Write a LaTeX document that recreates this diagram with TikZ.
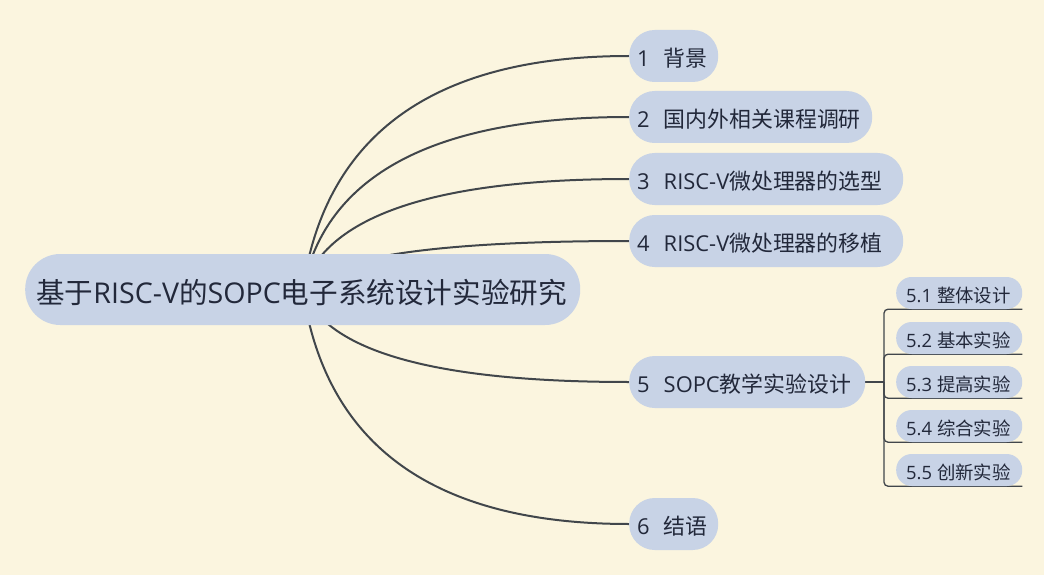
\documentclass[tikz,border=0pt]{standalone}
\usepackage{fontspec}
\setmainfont{Open Sans}
\newfontfamily\cjk{Noto Sans CJK SC}
\newcommand\zh[1]{{\cjk #1}}
\definecolor{bgc}{HTML}{FBF5DF}
\definecolor{nodefill}{HTML}{C8D3E6}
\definecolor{txt}{HTML}{22283A}
\definecolor{linec}{HTML}{41464B}
\pgfdeclarelayer{bglayer}
\pgfdeclarelayer{linelayer}
\pgfsetlayers{bglayer,linelayer,main}
\begin{document}
\begin{tikzpicture}[x=1pt,y=-1pt,
  pill/.style={fill=nodefill, text=txt, anchor=west, align=left, inner ysep=0pt},
  central/.style={pill, rounded corners=35pt, minimum height=71pt, inner xsep=11pt,
    text width=533pt, text height=28.5pt, text depth=0.8pt, font=\fontsize{28.6}{32}\selectfont},
  topic/.style={pill, rounded corners=25.5pt, minimum height=52pt, inner xsep=8pt,
    text height=21.5pt, text depth=0.8pt, font=\fontsize{21.9}{25}\selectfont},
  subtopic/.style={pill, rounded corners=15.5pt, minimum height=32pt, inner xsep=8pt,
    text width=110pt, text height=19.5pt, text depth=0.3pt, font=\fontsize{18.4}{22}\selectfont},
  conn/.style={draw=linec, line width=2pt},
  brk/.style={draw=linec, line width=1.3pt, rounded corners=4pt}]

\begin{pgfonlayer}{bglayer}
  \fill[bgc] (0,0) rectangle (1044,575);
\end{pgfonlayer}
\useasboundingbox (0,0) rectangle (1044,575);

% central topic
\node[central] (c) at (25,289.5) {\zh{基于}RISC-V\zh{的}SOPC\zh{电子系统设计实验研究}};

% main topics
\node[topic, text width=73pt]  (n1) at (629,56)  {1\hspace{14pt}\zh{背景}};
\node[topic, text width=227pt] (n2) at (629,117) {2\hspace{14pt}\zh{国内外相关课程调研}};
\node[topic, text width=258pt] (n3) at (629,179) {3\hspace{14pt}RISC-V\zh{微处理器的选型}};
\node[topic, text width=258pt] (n4) at (629,241) {4\hspace{14pt}RISC-V\zh{微处理器的移植}};
\node[topic, text width=220pt] (n5) at (629,382) {5\hspace{14pt}SOPC\zh{教学实验设计}};
\node[topic, text width=73pt]  (n6) at (629,524) {6\hspace{14pt}\zh{结语}};

% subtopics
\node[subtopic] (s1) at (896,293) {\hspace{2pt}5.1\hspace{5pt}\zh{整体设计}};
\node[subtopic] (s2) at (896,338) {\hspace{2pt}5.2\hspace{5pt}\zh{基本实验}};
\node[subtopic] (s3) at (896,382) {\hspace{2pt}5.3\hspace{5pt}\zh{提高实验}};
\node[subtopic] (s4) at (896,426) {\hspace{2pt}5.4\hspace{5pt}\zh{综合实验}};
\node[subtopic] (s5) at (896,470) {\hspace{2pt}5.5\hspace{5pt}\zh{创新实验}};

\coordinate (br) at (884,382);

\begin{pgfonlayer}{linelayer}
  \draw[conn] (c.center) .. controls (325.3,134) and (434.3,56) .. (n1.west);
  \draw[conn] (c.center) .. controls (325.3,174.7) and (434.3,117) .. (n2.west);
  \draw[conn] (c.center) .. controls (325.3,216) and (434.3,179) .. (n3.west);
  \draw[conn] (c.center) .. controls (325.3,257.3) and (434.3,241) .. (n4.west);
  \draw[conn] (c.center) .. controls (325.3,351.3) and (434.3,382) .. (n5.west);
  \draw[conn] (c.center) .. controls (325.3,446) and (434.3,524) .. (n6.west);
  \draw[conn] (n5.east) -- (br);
  \foreach \s in {s1,s2,s3,s4,s5} {
    \draw[brk] (br) |- (\s.south east);
  }
\end{pgfonlayer}
\end{tikzpicture}
\end{document}
